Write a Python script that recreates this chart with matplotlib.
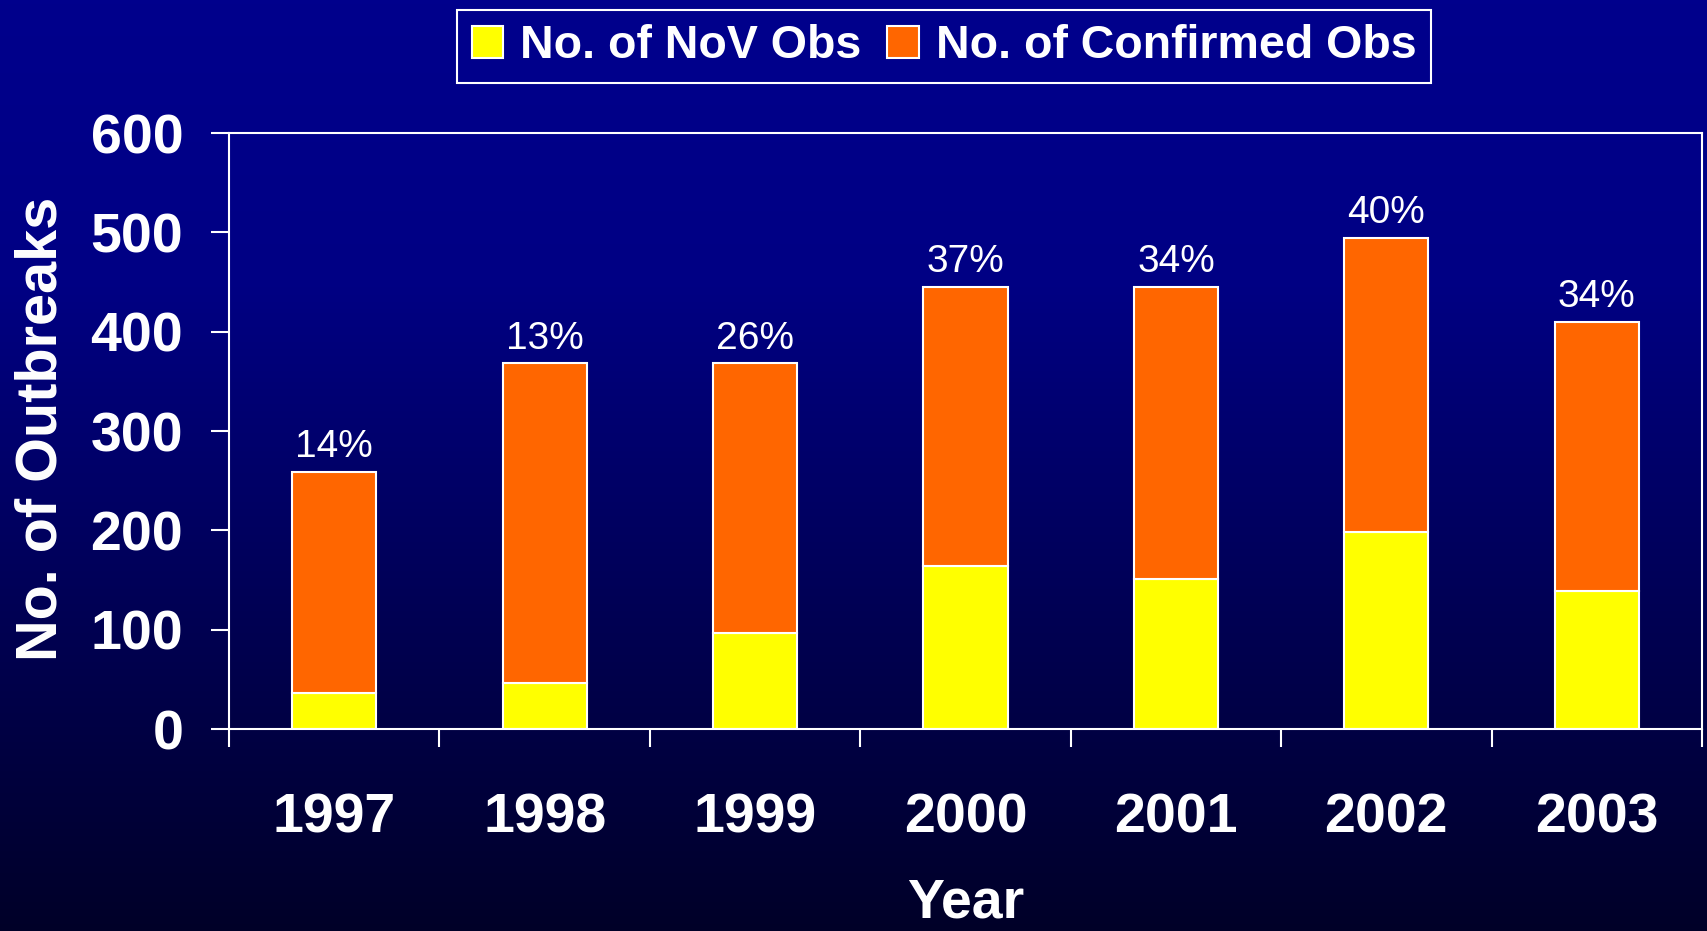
import numpy as np
import matplotlib
matplotlib.use("Agg")
import matplotlib.pyplot as plt
from matplotlib.colors import LinearSegmentedColormap

years = ["1997", "1998", "1999", "2000", "2001", "2002", "2003"]
nov_obs = [36, 46, 97, 164, 151, 198, 139]
confirmed_obs = [259, 368, 368, 445, 445, 494, 410]
pct_nov = [14, 13, 26, 37, 34, 40, 34]

plt.rcParams["font.family"] = ["Liberation Sans", "DejaVu Sans"]

fig = plt.figure(figsize=(17.07, 9.31), dpi=100)

# background gradient, blue at top fading to near black
bg = fig.add_axes([0, 0, 1, 1], zorder=-10)
cmap = LinearSegmentedColormap.from_list(
    "slide", [(0.0, "#00008C"), (0.3, "#000084"), (0.65, "#000055"), (1.0, "#000028")])
bg.imshow(np.linspace(0, 1, 256).reshape(-1, 1), aspect="auto", cmap=cmap,
          extent=[0, 1, 0, 1], origin="upper")
bg.set_axis_off()

ax = fig.add_axes([229 / 1707, 1 - 729 / 931, (1702 - 229) / 1707, (729 - 133) / 931])
ax.patch.set_alpha(0)

x = np.arange(len(years))
upper = [c - n for c, n in zip(confirmed_obs, nov_obs)]
b1 = ax.bar(x, nov_obs, width=0.4, color="#FFFF00", edgecolor="white", linewidth=1.5,
            label="No. of NoV Obs")
b2 = ax.bar(x, upper, width=0.4, bottom=nov_obs, color="#FF6600", edgecolor="white",
            linewidth=1.5, label="No. of Confirmed Obs")
ax.bar_label(b2, labels=[f"{p}%" for p in pct_nov], padding=5, color="white", fontsize=28)

ax.set_xlim(-0.5, len(years) - 0.5)
ax.set_ylim(0, 600)
ax.set_yticks(range(0, 601, 100))
ax.set_xticks(np.arange(-0.5, len(years), 1))
ax.set_xticklabels([])
ax.set_xticks(x, minor=True)
ax.set_xticklabels(years, minor=True)

for s in ax.spines.values():
    s.set_color("white")
    s.set_linewidth(1.5)
ax.tick_params(axis="y", colors="white", length=13, width=1.5, pad=20,
               labelsize=40)
ax.tick_params(axis="x", which="major", colors="white", length=13, width=1.5)
ax.tick_params(axis="x", which="minor", colors="white", length=0, pad=46,
               labelsize=40)
for lbl in ax.get_yticklabels() + ax.get_xticklabels(minor=True):
    lbl.set_fontweight("bold")

fig.text(42 / 1707, 1 - 429 / 931, "No. of Outbreaks", rotation=90, ha="center",
         va="center", color="white", fontsize=41.5, fontweight="bold")
fig.text(966 / 1707, 1 / 931, "Year", ha="center", va="bottom", color="white",
         fontsize=40, fontweight="bold")

leg = ax.legend(loc="center", bbox_to_anchor=(944 / 1707, 1 - 46.3 / 931),
                bbox_transform=fig.transFigure, ncol=2,
                prop={"weight": "bold", "size": 33.5}, frameon=True, fancybox=False,
                handlelength=0.67, handleheight=0.71, handletextpad=0.37,
                columnspacing=0.56, borderpad=0.31, borderaxespad=0)
leg.get_frame().set_facecolor("#00008B")
leg.get_frame().set_edgecolor("white")
leg.get_frame().set_linewidth(1.5)
leg.get_frame().set_alpha(1)
for t in leg.get_texts():
    t.set_color("white")

fig.savefig("out.png", dpi=100)
